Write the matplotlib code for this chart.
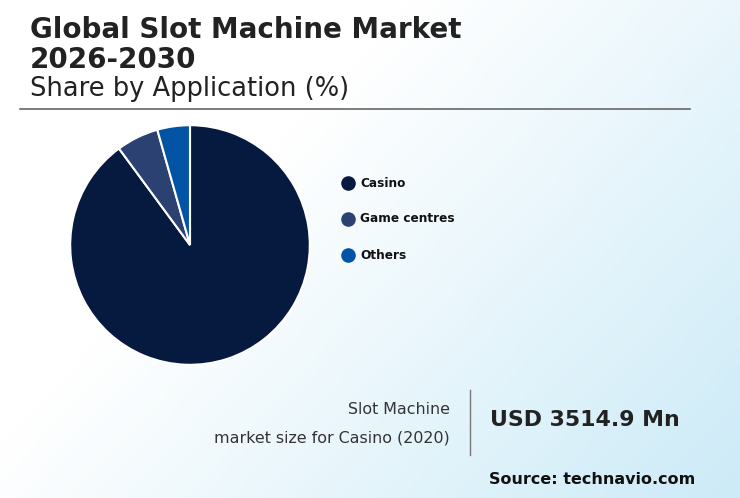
import matplotlib
matplotlib.use("Agg")
import matplotlib.pyplot as plt
import numpy as np
from matplotlib.lines import Line2D

plt.rcParams['font.family'] = ['DejaVu Sans']

categories = ["Casino", "Game centres", "Others"]
shares = [89.9, 5.7, 4.4]
colors = ["#061a40", "#2b4172", "#0353a4"]

W, H = 740, 498
fig = plt.figure(figsize=(W/100, H/100), dpi=100)

bg = fig.add_axes([0, 0, 1, 1])
x = np.linspace(0, 1, 200)
y = np.linspace(0, 1, 200)
X, Y = np.meshgrid(x, y)
t = np.clip((X * 0.8 + Y * 0.5) - 0.45, 0, 1) / 0.85
c0 = np.array([1.0, 1.0, 1.0]); c1 = np.array([0.80, 0.92, 0.97])
img = c0[None, None, :] * (1 - t[..., None]) + c1[None, None, :] * t[..., None]
bg.imshow(img, extent=[0, 1, 0, 1], origin="upper", aspect="auto")
bg.set_xlim(0, 1); bg.set_ylim(0, 1); bg.axis("off")

fig.text(30/W, 1-30/H, "Global Slot Machine Market", fontsize=20, fontweight="bold", color="#222222", va="center")
fig.text(30/W, 1-60/H, "2026-2030", fontsize=20, fontweight="bold", color="#222222", va="center")
fig.text(30/W, 1-89/H, "Share by Application (%)", fontsize=18.5, color="#222222", va="center")
bg.add_line(Line2D([20/W, 690/W], [1-109/H, 1-109/H], color="#666666", lw=1.2))

ax = fig.add_axes([(190-121)/W, 1-(245+121)/H, 242/W, 242/H])
ax.pie(shares, colors=colors, startangle=90, counterclock=False,
       wedgeprops=dict(edgecolor="white", linewidth=1.5))
ax.set_xlim(-1.01, 1.01); ax.set_ylim(-1.01, 1.01)
ax.set_aspect("equal")

for i, (cat, col) in enumerate(zip(categories, colors)):
    yy = 1 - (183 + 36*i)/H
    bg.scatter([348/W], [yy], s=90, color=col, transform=bg.transAxes)
    fig.text(360/W, yy, cat, fontsize=8.7, fontweight="bold", color="#111111", va="center")

fig.text(450/W, 1-409/H, "Slot Machine", fontsize=11.4, color="#333333", ha="right", va="center")
fig.text(450/W, 1-438/H, "market size for Casino (2020)", fontsize=11.4, color="#333333", ha="right", va="center")
bg.add_line(Line2D([470/W, 470/W], [1-390/H, 1-455/H], color="#777777", lw=1))
fig.text(490/W, 1-420/H, "USD 3514.9 Mn", fontsize=15.8, fontweight="bold", color="#222222", va="center")
fig.text(695/W, 1-479/H, "Source: technavio.com", fontsize=11.5, fontweight="bold", color="#111111", ha="right", va="center")

fig.savefig("out.png", dpi=100)
